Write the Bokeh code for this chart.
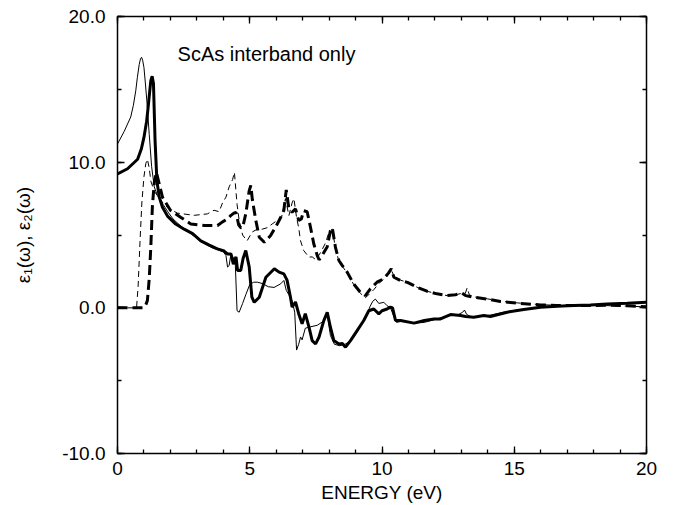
from bokeh.plotting import figure
from bokeh.models import Range1d, LinearAxis, SingleIntervalTicker, NumeralTickFormatter, Label
from bokeh.embed import file_html
from bokeh.resources import INLINE

# thin solid: eps1 (calc A)
eps1_thin_x = [0, 0.25, 0.5, 0.6, 0.69, 0.75, 0.82, 0.87, 0.91, 0.95, 1.0, 1.05, 1.11, 1.2, 1.29, 1.39, 1.51, 1.64, 1.76, 1.9,
               2.1, 2.4, 2.8, 3.2, 3.6,
               3.85, 4.0, 4.1, 4.16, 4.22, 4.29, 4.36, 4.45, 4.52, 4.6, 4.73, 4.85, 5.0, 5.15, 5.3, 5.5, 5.7, 5.92, 6.17, 6.29,
               6.38, 6.48, 6.6, 6.7, 6.77, 6.85, 6.92, 6.98, 7.1, 7.3, 7.55, 7.8, 7.93, 8.05, 8.2, 8.4, 8.6, 8.8, 9.1, 9.4,
               9.55, 9.65, 9.75, 9.88, 10.07, 10.19, 10.32, 10.45, 10.55, 10.8, 11.2, 11.6, 12.0, 12.5, 12.9, 13.05, 13.12, 13.2, 13.4, 13.7,
               14.1, 14.6, 15.2, 16.0, 16.8, 17.5, 18.5, 19.3, 20.0]
eps1_thin_y = [11.25, 12.1, 13.1, 13.9, 14.9, 15.8, 16.7, 17.1, 17.2, 17.0, 16.5, 15.5, 14.2, 11.9, 9.7, 8.3, 7.7, 7.3, 7.0, 6.6,
               6.1, 5.6, 5.05, 4.5, 4.1,
               3.95, 3.85, 3.6, 2.8, 2.9, 3.7, 3.5, 3.2, -0.2, -0.3, 0.3, 0.9, 1.6, 1.76, 1.76, 1.65, 1.45, 1.4, 1.65, 1.88,
               1.2, 0.9, 0.5, -0.3, -2.9, -2.5, -2.0, -2.2, -1.4, -1.3, -1.2, -0.9, -0.45, -1.9, -2.5, -2.6, -2.5, -2.3, -1.5, -0.6,
               0.1, 0.45, 0.6, 0.3, 0.38, 0.15, 0.0, -0.6, -1.0, -0.9, -1.05, -1.0, -0.8, -0.55, -0.45, -0.3, -0.15, -0.45, -0.65, -0.6,
               -0.5, -0.3, -0.12, 0.03, 0.1, 0.15, 0.23, 0.32, 0.4]

# thick solid: eps1 (calc B)
eps1_thick_x = [0, 0.38, 0.76, 0.9, 1.0, 1.1, 1.16, 1.22, 1.26, 1.31, 1.36, 1.42, 1.49, 1.58, 1.70, 1.89, 2.2, 2.52, 2.84, 3.15,
                3.47, 3.78, 4.03,
                4.16, 4.29, 4.38, 4.48, 4.54, 4.66, 4.75, 4.85, 4.98, 5.08, 5.17, 5.36, 5.61, 5.93, 6.11, 6.29, 6.41, 6.54, 6.6, 6.73,
                6.85, 6.98, 7.1, 7.24, 7.36, 7.49, 7.62, 7.8, 7.93, 8.05, 8.18, 8.37, 8.5, 8.62, 8.81, 9.06, 9.31, 9.5, 9.69, 9.88,
                10.0, 10.19, 10.32, 10.4, 10.51, 10.7, 11.21, 11.6, 11.97, 12.21, 12.59, 12.97, 13.16, 13.47, 13.85, 14.1, 14.73, 15.36, 15.99, 16.62,
                17.25, 17.88, 18.51, 19.27, 20.0]
eps1_thick_y = [9.2, 9.55, 10.2, 10.9, 11.7, 12.8, 13.8, 14.9, 15.6, 15.9, 15.4, 11.5, 8.7, 7.6, 6.9, 6.3, 5.75, 5.4, 5.1, 4.6,
                4.3, 4.05, 3.9,
                3.7, 3.7, 3.0, 3.5, 2.56, 2.56, 3.4, 3.93, 2.8, 0.73, 0.38, 0.73, 2.1, 2.68, 2.45, 2.33, 1.9, 0.73, 0.05, 0.4,
                -0.4, -1.1, -0.4, -1.33, -2.25, -2.48, -2.0, -0.88, -0.3, -1.33, -2.25, -2.48, -2.45, -2.7, -2.25, -1.56, -0.87, -0.2, -0.08, -0.41,
                -0.2, -0.08, 0.05, 0.0, -0.87, -0.87, -1.05, -0.87, -0.76, -0.76, -0.46, -0.53, -0.6, -0.64, -0.53, -0.6, -0.3, -0.12, 0.04, 0.11,
                0.16, 0.2, 0.27, 0.32, 0.39]

# thin dashed: eps2 (calc A)
eps2_thin_x = [0, 0.72, 0.78, 0.85, 0.92, 1.0, 1.07, 1.13, 1.2, 1.26, 1.39, 1.55, 1.76, 2.0, 2.27, 2.9, 3.4, 3.65, 3.84, 3.97,
               4.1, 4.22, 4.35, 4.42, 4.52, 4.6, 4.73, 4.9, 5.09, 5.28, 5.47, 5.66, 5.85, 6.04, 6.2, 6.35, 6.48, 6.6, 6.67, 6.77,
               6.85, 6.92, 7.04, 7.24, 7.36, 7.5, 7.68, 7.85, 8.0, 8.12, 8.24, 8.37, 8.5, 8.68, 8.93, 9.18, 9.37, 9.5, 9.69, 9.85,
               10.07, 10.25, 10.35, 10.45, 10.7, 10.96, 11.33, 11.7, 12.08, 12.47, 12.78, 13.03, 13.15, 13.22, 13.3, 13.47, 13.98, 14.48, 15.11, 15.99,
               16.62, 17.25, 17.88, 18.51, 19.27, 20.0]
eps2_thin_y = [0, 0, 1.5, 4.5, 7.2, 9.0, 9.9, 10.2, 9.6, 8.7, 8.0, 7.6, 7.1, 6.75, 6.5, 6.35, 6.45, 6.7, 6.6, 7.2,
               7.6, 8.3, 8.8, 9.3, 7.1, 6.0, 5.0, 4.6, 5.2, 5.4, 5.4, 5.5, 5.76, 6.0, 6.2, 7.5, 6.33, 7.2, 7.5, 6.2,
               5.5, 4.6, 3.93, 3.48, 3.5, 3.3, 3.8, 4.4, 5.2, 5.4, 4.1, 3.2, 2.85, 2.4, 1.6, 1.0, 0.7, 0.9, 1.25, 1.6,
               2.0, 2.3, 2.6, 2.2, 1.9, 1.75, 1.41, 1.14, 0.96, 0.84, 0.9, 1.0, 1.0, 1.37, 0.9, 0.75, 0.62, 0.45, 0.34, 0.22,
               0.17, 0.16, 0.15, 0.15, 0.12, 0.06]

# thick dashed: eps2 (calc B)
eps2_thick_x = [0, 0.95, 1.05, 1.13, 1.2, 1.26, 1.32, 1.39, 1.47, 1.58, 1.7, 2.0, 2.4, 2.77, 3.28, 3.78, 3.97, 4.16, 4.29, 4.4,
                4.48, 4.58, 4.66, 4.73, 4.85, 4.98, 5.04, 5.1, 5.23, 5.36, 5.55, 5.79, 6.04, 6.24, 6.29, 6.38, 6.48, 6.6, 6.73, 6.85,
                6.95, 7.04, 7.17, 7.3, 7.42, 7.55, 7.62, 7.74, 7.93, 8.05, 8.12, 8.24, 8.37, 8.5, 8.68, 8.93, 9.18, 9.37, 9.56, 9.81,
                10.07, 10.25, 10.35, 10.45, 10.7, 10.96, 11.33, 11.7, 12.08, 12.47, 12.78, 13.03, 13.16, 13.47, 13.98, 14.48, 15.11, 15.99, 16.62, 17.25,
                17.88, 18.51, 19.27, 20.0]
eps2_thick_y = [0, 0, 0.1, 0.5, 2.0, 4.2, 7.0, 8.6, 9.3, 8.5, 7.6, 6.7, 6.2, 5.76, 5.65, 5.65, 5.9, 6.1, 6.35, 6.5,
                6.56, 5.7, 5.5, 5.5, 6.45, 8.05, 8.4, 7.4, 6.0, 4.85, 4.5, 4.96, 5.76, 6.45, 6.7, 8.1, 6.8, 6.56, 6.8, 6.0,
                6.1, 6.67, 6.6, 5.5, 4.4, 3.6, 3.3, 3.6, 4.2, 5.3, 5.5, 4.15, 3.25, 2.9, 2.46, 1.64, 1.07, 0.84, 1.3, 1.76,
                2.0, 2.4, 2.68, 2.1, 1.87, 1.75, 1.41, 1.14, 0.96, 0.84, 0.9, 1.0, 0.84, 0.73, 0.6, 0.43, 0.32, 0.2, 0.16, 0.16,
                0.16, 0.18, 0.14, 0.08]

x_ticks = [0, 5, 10, 15, 20]
y_ticks = [-10, 0, 10, 20]
annotation = "ScAs interband only"
x_title = "ENERGY (eV)"
y_title = "\u03b5\u2081(\u03c9), \u03b5\u2082(\u03c9)"

FONT = "Liberation Sans"

p = figure(width=678, height=505, output_backend="svg", toolbar_location=None,
           x_range=Range1d(0, 20), y_range=Range1d(-10, 20),
           min_border_left=117, min_border_right=32, min_border_top=16, min_border_bottom=52,
           x_axis_location=None, y_axis_location=None)
p.grid.visible = False
p.outline_line_color = None
p.background_fill_color = "white"
p.border_fill_color = "white"


def style_axis(ax, show_labels):
    ax.axis_line_width = 1.5
    ax.axis_line_color = "black"
    ax.major_tick_in = 7
    ax.major_tick_out = 0
    ax.minor_tick_in = 4
    ax.minor_tick_out = 0
    ax.major_tick_line_width = 1.3
    ax.minor_tick_line_width = 1.3
    ax.major_tick_line_color = "black"
    ax.minor_tick_line_color = "black"
    if show_labels:
        ax.major_label_text_font = FONT
        ax.major_label_text_font_size = "19px"
        ax.major_label_text_color = "black"
        ax.axis_label_text_font = FONT
        ax.axis_label_text_font_size = "19px"
        ax.axis_label_text_font_style = "normal"
        ax.axis_label_text_color = "black"
    else:
        ax.major_label_text_font_size = "1px"
        ax.major_label_text_color = None
        ax.major_label_standoff = 0


xb = LinearAxis(ticker=SingleIntervalTicker(interval=5, num_minor_ticks=5), axis_label=x_title)
style_axis(xb, True)
xb.major_label_standoff = 8
xb.axis_label_standoff = 4
p.add_layout(xb, "below")

yl = LinearAxis(ticker=SingleIntervalTicker(interval=10, num_minor_ticks=2), axis_label=y_title,
                formatter=NumeralTickFormatter(format="0.0"))
style_axis(yl, True)
yl.major_label_standoff = 12
yl.axis_label_standoff = 25
p.add_layout(yl, "left")

xt = LinearAxis(ticker=SingleIntervalTicker(interval=5, num_minor_ticks=5))
style_axis(xt, False)
p.add_layout(xt, "above")

yr = LinearAxis(ticker=SingleIntervalTicker(interval=10, num_minor_ticks=2))
style_axis(yr, False)
p.add_layout(yr, "right")

p.line(eps1_thin_x, eps1_thin_y, line_color="black", line_width=1.0)
p.line(eps1_thick_x, eps1_thick_y, line_color="black", line_width=3.0)
p.line(eps2_thin_x, eps2_thin_y, line_color="black", line_width=1.0, line_dash="6 4")
p.line(eps2_thick_x, eps2_thick_y, line_color="black", line_width=3.0, line_dash="10 5")

p.add_layout(Label(x=2.27, y=17.45, text=annotation, text_font=FONT, text_font_size="20px",
                   text_baseline="middle", text_align="left", text_color="black"))

open("out.html", "w").write(file_html(p, INLINE))
